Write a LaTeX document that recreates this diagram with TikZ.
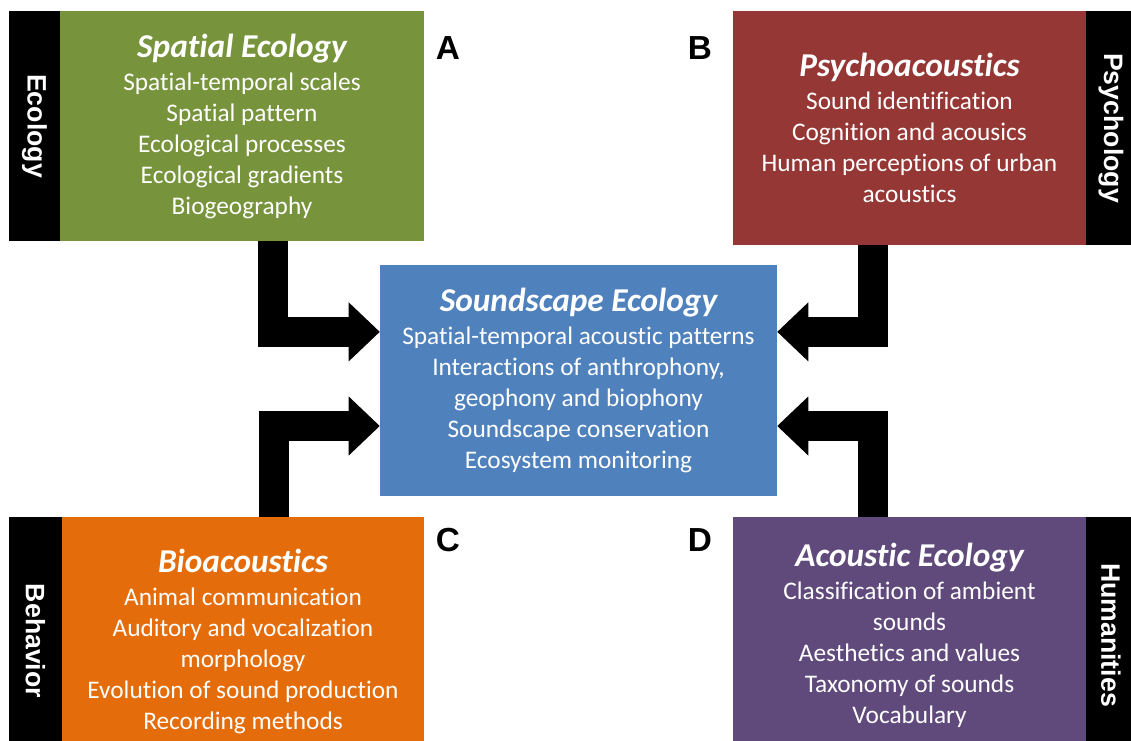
\documentclass[tikz,border=0pt]{standalone}
\usepackage{fontspec}
\setmainfont{Carlito}[Ligatures=NoCommon]
\newfontfamily\tabfont{Liberation Sans}
\usetikzlibrary{arrows.meta}

\definecolor{olivegreen}{RGB}{119,147,60}
\definecolor{brickred}{RGB}{149,55,53}
\definecolor{steelblue}{RGB}{79,129,189}
\definecolor{burntorange}{RGB}{228,108,10}
\definecolor{plum}{RGB}{96,74,123}

\tikzset{
  field/.style={fill=#1,draw=none,text=white,align=center,inner sep=0pt,
    font=\fontsize{19}{23.25}\selectfont},
  sidetab/.style={fill=black,draw=none,text=white,inner sep=0pt,rotate=-90,
    font=\tabfont\bfseries\fontsize{20}{24}\selectfont},
  letter/.style={font=\tabfont\bfseries\fontsize{25}{29}\selectfont},
  flow/.style={line width=22.5pt,line join=miter,
    -{Triangle[length=23.25pt,width=44.25pt,line width=0pt]}}
}
\newcommand{\heading}[1]{{\fontsize{25}{29}\selectfont\bfseries\itshape #1}\\[1.5pt]}

\begin{document}
\begin{tikzpicture}[x=0.75pt,y=-0.75pt]
\useasboundingbox (0,0) rectangle (1131,740);
\clip (0,0) rectangle (1131,740);
% boxes
\node[field=olivegreen,minimum width=273pt,minimum height=172.5pt] (spatial) at (242,126)
  {\heading{Spatial Ecology}Spatial-temporal scales\\Spatial pattern\\Ecological processes\\Ecological gradients\\Biogeography};
\node[field=brickred,minimum width=264.75pt,minimum height=175.5pt] (psycho) at (909.5,128)
  {\heading{Psychoacoustics}Sound identification\\Cognition and acousics\\Human perceptions of urban\\acoustics};
\node[field=steelblue,minimum width=297.75pt,minimum height=173.25pt] (sound) at (578.5,380)
  {\heading{Soundscape Ecology}Spatial-temporal  acoustic patterns\\Interactions of anthrophony,\\geophony and biophony\\Soundscape conservation\\Ecosystem monitoring};
\node[field=burntorange,minimum width=271.5pt,minimum height=186pt] (bioac) at (243,641)
  {\heading{Bioacoustics}Animal communication\\Auditory and vocalization\\morphology\\Evolution of sound production\\Recording methods};
\node[field=plum,minimum width=264.75pt,minimum height=177pt] (acoustic) at (909.5,635)
  {\heading{Acoustic Ecology}Classification of ambient\\sounds\\Aesthetics and values\\Taxonomy of sounds\\Vocabulary};
% side tabs
\node[sidetab,minimum width=172.5pt,minimum height=38.25pt] (ecotab) at (34.5,126) {Ecology};
\node[sidetab,minimum width=175.5pt,minimum height=37.5pt] (psytab) at (1111,128) {Psychology};
\node[sidetab,minimum width=186pt,minimum height=39.75pt] (behtab) at (35.5,641) {Behavior};
\node[sidetab,minimum width=177pt,minimum height=37.5pt] (humtab) at (1111,635) {Humanities};
% panel letters
\node[letter] (labA) at (448,48) {A};
\node[letter] (labB) at (700,48) {B};
\node[letter] (labC) at (448,540) {C};
\node[letter] (labD) at (700,540) {D};
% arrows
\draw[flow] ([xshift=23.6pt]spatial.south) |- ([yshift=36.1pt]sound.west);
\draw[flow] ([xshift=23.6pt]bioac.north) |- ([yshift=-34.5pt]sound.west);
\draw[flow] ([xshift=-27.4pt]psycho.south) |- ([yshift=36.1pt]sound.east);
\draw[flow] ([xshift=-27.4pt]acoustic.north) |- ([yshift=-34.5pt]sound.east);
\end{tikzpicture}
\end{document}
